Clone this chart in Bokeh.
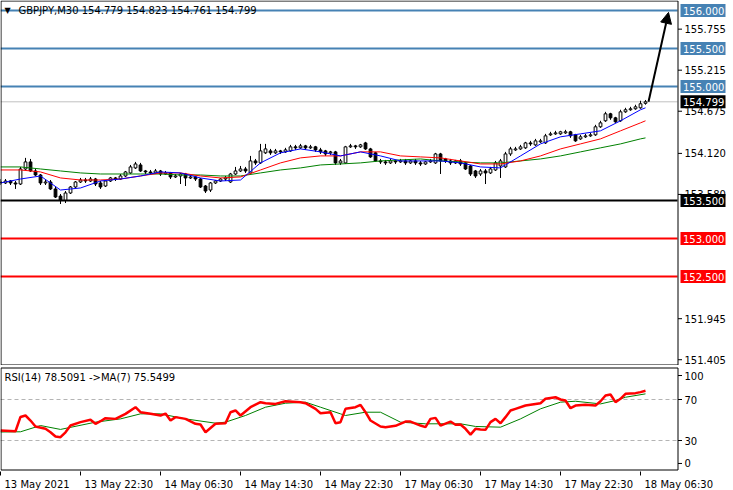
from bokeh.plotting import figure
from bokeh.models import (Range1d, FixedTicker, Label, Arrow, NormalHead, ColumnDataSource)
from bokeh.core.properties import value
from bokeh.layouts import column
from bokeh.embed import file_html
from bokeh.resources import INLINE

# ---------------- data ----------------
symbol_header = "GBPJPY,M30 154.779 154.823 154.761 154.799"
rsi_header = "RSI(14) 78.5091  ->MA(7) 75.5499"

opens = [153.744, 153.731, 153.757, 153.731, 153.717, 153.915, 154.008, 153.889, 153.836, 153.731,
         153.744, 153.652, 153.559, 153.507, 153.599, 153.678, 153.744, 153.770, 153.757, 153.783,
         153.731, 153.691, 153.757, 153.797, 153.783, 153.823, 153.863, 153.929, 153.968, 153.889,
         153.876, 153.863, 153.889, 153.849, 153.863, 153.810, 153.823, 153.849, 153.797, 153.810,
         153.783, 153.691, 153.638, 153.731, 153.757, 153.783, 153.744, 153.849, 153.889, 153.915,
         153.863, 154.021, 153.995, 154.127, 154.153, 154.127, 154.153, 154.140, 154.153, 154.206,
         154.193, 154.219, 154.193, 154.206, 154.166, 154.153, 154.127, 154.140, 153.995, 153.995,
         154.206, 154.219, 154.206, 154.258, 154.179, 154.127, 154.021, 154.008, 153.995, 154.021,
         154.008, 154.021, 153.995, 154.021, 153.995, 153.981, 154.008, 153.995, 154.113, 154.047,
         154.021, 153.995, 154.021, 153.995, 153.955, 153.889, 153.849, 153.889, 153.863, 153.902,
         153.955, 153.942, 154.113, 154.166, 154.179, 154.193, 154.258, 154.232, 154.272, 154.258,
         154.364, 154.377, 154.377, 154.390, 154.404, 154.364, 154.311, 154.338, 154.351, 154.364,
         154.470, 154.549, 154.641, 154.588, 154.549, 154.667, 154.694, 154.707, 154.720, 154.779]
highs = [153.783, 153.783, 153.770, 153.757, 153.942, 154.061, 154.047, 153.915, 153.849, 153.770,
         153.770, 153.678, 153.586, 153.625, 153.691, 153.757, 153.797, 153.797, 153.810, 153.797,
         153.757, 153.770, 153.810, 153.810, 153.849, 153.889, 153.968, 154.008, 153.995, 153.902,
         153.902, 153.915, 153.902, 153.889, 153.876, 153.849, 153.863, 153.863, 153.836, 153.823,
         153.797, 153.704, 153.744, 153.770, 153.797, 153.823, 153.863, 153.942, 153.955, 153.942,
         154.087, 154.047, 154.245, 154.245, 154.179, 154.179, 154.166, 154.193, 154.232, 154.232,
         154.245, 154.232, 154.232, 154.219, 154.193, 154.166, 154.153, 154.153, 154.047, 154.219,
         154.245, 154.232, 154.245, 154.272, 154.193, 154.140, 154.047, 154.034, 154.047, 154.034,
         154.047, 154.047, 154.034, 154.047, 154.021, 154.021, 154.047, 154.127, 154.127, 154.061,
         154.047, 154.034, 154.047, 154.008, 153.968, 153.902, 153.915, 153.915, 153.942, 154.021,
         154.047, 154.140, 154.206, 154.206, 154.232, 154.272, 154.285, 154.311, 154.311, 154.377,
         154.404, 154.417, 154.417, 154.430, 154.417, 154.377, 154.364, 154.377, 154.390, 154.496,
         154.549, 154.667, 154.654, 154.601, 154.694, 154.720, 154.733, 154.760, 154.813, 154.823]
lows = [153.704, 153.717, 153.704, 153.652, 153.704, 153.902, 153.876, 153.823, 153.704, 153.704,
        153.638, 153.533, 153.454, 153.467, 153.586, 153.665, 153.731, 153.731, 153.744, 153.691,
        153.652, 153.678, 153.744, 153.757, 153.770, 153.810, 153.849, 153.915, 153.876, 153.849,
        153.836, 153.849, 153.823, 153.836, 153.783, 153.797, 153.717, 153.691, 153.783, 153.757,
        153.665, 153.599, 153.612, 153.717, 153.744, 153.757, 153.731, 153.836, 153.876, 153.863,
        153.849, 153.968, 153.981, 154.113, 154.100, 154.113, 154.113, 154.127, 154.140, 154.166,
        154.179, 154.166, 154.179, 154.140, 154.113, 154.087, 154.100, 153.968, 153.968, 153.981,
        154.193, 154.179, 154.193, 154.166, 154.061, 154.008, 153.981, 153.968, 153.981, 153.981,
        153.995, 153.968, 153.981, 153.968, 153.955, 153.968, 153.995, 153.981, 153.849, 153.995,
        153.968, 153.981, 153.955, 153.902, 153.823, 153.797, 153.823, 153.717, 153.849, 153.889,
        153.797, 153.929, 154.087, 154.153, 154.166, 154.179, 154.219, 154.219, 154.258, 154.245,
        154.351, 154.364, 154.364, 154.377, 154.324, 154.272, 154.298, 154.324, 154.338, 154.351,
        154.456, 154.535, 154.562, 154.522, 154.535, 154.654, 154.681, 154.694, 154.707, 154.761]
closes = [153.731, 153.757, 153.731, 153.717, 153.915, 154.008, 153.889, 153.836, 153.731, 153.744,
          153.652, 153.546, 153.507, 153.599, 153.678, 153.744, 153.770, 153.757, 153.783, 153.717,
          153.678, 153.757, 153.797, 153.783, 153.823, 153.876, 153.942, 153.981, 153.889, 153.876,
          153.863, 153.889, 153.849, 153.863, 153.810, 153.823, 153.849, 153.797, 153.810, 153.783,
          153.678, 153.625, 153.731, 153.757, 153.783, 153.797, 153.849, 153.889, 153.915, 153.889,
          154.021, 153.995, 154.153, 154.179, 154.127, 154.153, 154.140, 154.166, 154.206, 154.193,
          154.219, 154.193, 154.206, 154.166, 154.140, 154.113, 154.140, 153.995, 154.021, 154.206,
          154.219, 154.206, 154.232, 154.179, 154.074, 154.021, 154.008, 153.995, 154.021, 154.008,
          154.021, 153.995, 154.021, 153.995, 153.981, 154.008, 154.021, 154.113, 154.021, 154.021,
          153.995, 154.021, 153.981, 153.915, 153.849, 153.823, 153.889, 153.863, 153.915, 153.995,
          154.021, 154.113, 154.179, 154.179, 154.206, 154.258, 154.245, 154.285, 154.285, 154.351,
          154.377, 154.390, 154.404, 154.404, 154.351, 154.285, 154.338, 154.351, 154.364, 154.470,
          154.522, 154.641, 154.588, 154.535, 154.667, 154.694, 154.707, 154.733, 154.773, 154.799]
bars = list(range(len(closes)))

ma_bars = [0, 4, 8, 12, 16, 20, 24, 28, 32, 36, 40, 44, 48, 52, 56, 60, 64,
           68, 72, 76, 80, 84, 88, 92, 96, 100, 104, 108, 112, 116, 120, 124, 128, 129]
ma_fast = [153.731, 153.783, 153.823, 153.638, 153.665, 153.757, 153.783, 153.823, 153.876, 153.863,
           153.797, 153.757, 153.770, 153.995, 154.127, 154.179, 154.140, 154.087, 154.140, 154.087,
           154.021, 154.021, 154.021, 153.995, 153.942, 153.929, 154.087, 154.245, 154.338, 154.377,
           154.417, 154.549, 154.694, 154.720]
ma_mid = [153.902, 153.902, 153.876, 153.797, 153.770, 153.770, 153.783, 153.823, 153.863, 153.863,
          153.823, 153.797, 153.810, 153.902, 153.995, 154.061, 154.087, 154.087, 154.140, 154.140,
          154.087, 154.074, 154.061, 154.021, 153.981, 153.981, 154.021, 154.087, 154.179, 154.245,
          154.311, 154.417, 154.522, 154.549]
ma_slow = [153.942, 153.942, 153.915, 153.889, 153.863, 153.849, 153.849, 153.849, 153.849, 153.836,
           153.836, 153.823, 153.823, 153.863, 153.902, 153.929, 153.968, 153.981, 153.995, 154.021,
           154.034, 154.047, 154.021, 154.008, 153.995, 153.995, 154.021, 154.047, 154.087, 154.140,
           154.193, 154.245, 154.311, 154.324]

rsi_bars = [0, 3, 4, 5, 6, 7, 9, 10, 11, 12, 13, 14, 16, 18, 19, 20, 21, 23, 25, 27,
            28, 30, 32, 33, 34, 35, 37, 39, 40, 41, 43, 45, 46, 47, 48, 50, 52, 53, 55, 57,
            60, 61, 63, 64, 66, 67, 68, 69, 71, 72, 73, 74, 76, 77, 79, 81, 82, 84, 85, 86,
            87, 88, 90, 91, 92, 93, 94, 95, 96, 97, 98, 99, 100, 101, 102, 103, 105, 107, 108, 109,
            111, 112, 113, 114, 115, 117, 119, 120, 121, 122, 123, 124, 125, 127, 128, 129]
rsi_vals = [39.8, 39.0, 53.0, 54.4, 49.5, 43.7, 41.4, 38.1, 33.9, 33.2, 38.0, 44.6, 47.9, 50.2, 46.3, 48.8, 51.8, 51.1, 56.0, 62.5,
            57.6, 56.0, 54.4, 56.3, 49.5, 52.8, 51.1, 46.3, 45.6, 38.1, 46.3, 46.9, 57.6, 59.3, 54.4, 62.5, 67.4, 66.4, 65.7, 68.3,
            67.4, 66.4, 60.9, 56.6, 57.6, 46.9, 47.9, 60.9, 62.5, 64.8, 57.6, 49.5, 43.7, 43.0, 44.3, 48.5, 48.5, 44.6, 43.0, 51.1,
            52.1, 44.6, 48.5, 45.3, 45.6, 41.4, 35.8, 41.4, 40.7, 40.4, 47.9, 51.1, 46.9, 52.8, 59.3, 60.9, 64.1, 65.7, 66.4, 70.7,
            72.2, 70.0, 69.0, 61.5, 64.1, 64.8, 64.1, 68.3, 73.9, 74.9, 67.4, 70.7, 75.6, 76.2, 77.2, 78.5]
rsi_ma_bars = [0, 4, 8, 12, 19, 24, 28, 32, 37, 43, 45, 49, 53, 57, 61, 64, 68, 69, 73, 76,
               80, 85, 92, 95, 100, 104, 108, 112, 115, 120, 123, 125, 129]
rsi_ma_vals = [38.3, 38.5, 44.6, 40.8, 47.9, 51.1, 56.0, 56.0, 51.1, 46.9, 47.9, 54.4, 62.5, 66.4, 67.4, 62.5, 56.0, 54.4, 57.6, 57.6,
               47.9, 46.3, 46.3, 43.7, 43.0, 51.1, 60.9, 67.4, 68.3, 65.7, 69.0, 72.2, 75.5]

time_tick_bars = [0, 16, 32, 48, 64, 80, 96, 112, 128]
time_tick_labels = ["13 May 2021", "13 May 22:30", "14 May 06:30", "14 May 14:30", "14 May 22:30",
                    "17 May 06:30", "17 May 14:30", "17 May 22:30", "18 May 06:30"]

price_ticks = [155.755, 155.215, 154.675, 154.120, 153.580, 151.945, 151.405]
rsi_levels = [70, 30]
rsi_tick_pos = [93.4, 70, 30, 7.6]
rsi_tick_text = ["100", "70", "30", "0"]

levels_blue = [156.000, 155.500, 155.000]
level_black = 153.500
levels_red = [153.000, 152.500]
bid_price = 154.799
target_price = 156.000

# ---------------- geometry / styling ----------------
FONT = "DejaVu Sans"
FS = "10px"
STEEL = "#4682B4"
K = 5.0                       # pixels per bar
CHART_W = 677                 # chart area width in px (price scale lies right of it)
FULL_W = 733                  # frame width incl. price-scale strip
X0 = 0.0
X1 = X0 + CHART_W / K         # chart right border (in bar units)
XEND = X0 + FULL_W / K
MAIN_H = 365
Y0, Y1 = 151.329, 156.132
PY = MAIN_H / (Y1 - Y0)       # pixels per price unit
RSI_H = 105
R0, R1 = -0.24, 102.2
PR = RSI_H / (R1 - R0)

xr = Range1d(X0, XEND)


def base_fig(h, yr, **kw):
    f = figure(frame_width=FULL_W, frame_height=h, x_range=xr, y_range=yr,
               output_backend="svg", toolbar_location=None, tools="",
               y_axis_location=None, min_border_left=0, min_border_right=0, **kw)
    f.grid.visible = False
    f.outline_line_color = None
    f.background_fill_color = "white"
    f.border_fill_color = "white"
    return f


def scale_strip(f, ticks, texts, yb, yt):
    # chart border
    f.quad(left=[X0 + 0.5 / K], right=[X1 + 0.5 / K], bottom=[yb], top=[yt],
           fill_color=None, line_color="black", line_width=1)
    # tick marks and labels of the price scale
    f.segment(x0=[X1 + 0.5 / K] * len(ticks), y0=ticks, x1=[X1 + 4.5 / K] * len(ticks), y1=ticks,
              line_color="black", line_width=1)
    f.text(x=[X1 + 7 / K] * len(ticks), y=ticks, text=texts, text_font=value(FONT),
           text_font_size=value(FS), text_color="black", text_align="left", text_baseline="middle")


# ---------------- main panel ----------------
main = base_fig(MAIN_H, Range1d(Y0, Y1), x_axis_location=None, min_border_top=0, min_border_bottom=0)

# horizontal levels (stop at the chart border)
hl = [(bid_price, "#c0c0c0", 1)] + [(lv, STEEL, 2) for lv in levels_blue] + \
     [(level_black, "black", 2)] + [(lv, "red", 2) for lv in levels_red]
main.segment(x0=[X0] * len(hl), x1=[X1] * len(hl), y0=[h[0] for h in hl], y1=[h[0] for h in hl],
             line_color=[h[1] for h in hl], line_width=[h[2] for h in hl])

# candles
fill = ["white" if c >= o else "black" for o, c in zip(opens, closes)]
src = ColumnDataSource(dict(x=bars, o=opens, h=highs, l=lows, c=closes,
                            top=[max(o, c) for o, c in zip(opens, closes)],
                            bottom=[min(o, c) for o, c in zip(opens, closes)],
                            fill=fill))
main.segment(x0="x", y0="h", x1="x", y1="l", source=src, line_color="black", line_width=1)
main.vbar(x="x", width=0.55, top="top", bottom="bottom", fill_color="fill",
          line_color="black", line_width=1, source=src)

# moving averages
main.line(ma_bars, ma_slow, line_color="green", line_width=1)
main.line(ma_bars, ma_mid, line_color="red", line_width=1)
main.line(ma_bars, ma_fast, line_color="blue", line_width=1)

# price scale
scale_strip(main, price_ticks, [f"{t:.3f}" for t in price_ticks], Y0 + 0.5 / PY, Y1 - 0.5 / PY)

# coloured price boxes on the scale
boxes = [(lv, STEEL) for lv in levels_blue] + [(bid_price, "black"), (level_black, "black")] + \
        [(lv, "red") for lv in levels_red]
bx = [X1 + (3 + 22.5) / K] * len(boxes)
main.rect(x=bx, y=[b[0] for b in boxes], width=45, height=13, width_units="screen",
          height_units="screen", fill_color=[b[1] for b in boxes], line_color=None)
main.text(x=[X1 + 5.5 / K] * len(boxes), y=[b[0] for b in boxes],
          text=[f"{b[0]:.3f}" for b in boxes], text_font=value(FONT), text_font_size=value(FS),
          text_color="white", text_align="left", text_baseline="middle")

# arrow from last close to the target level
main.add_layout(Arrow(end=NormalHead(size=11, fill_color="black", line_color="black", line_width=1),
                      x_start=bars[-1] + 0.6, y_start=closes[-1],
                      x_end=bars[-1] + 4.6, y_end=target_price - 0.025,
                      line_color="black", line_width=2))

# header
main.add_layout(Label(x=0.8, y=target_price, text="\u25bc", text_font=FONT, text_font_size="8px",
                      text_color="black", text_baseline="middle", text_align="left"))
main.add_layout(Label(x=3.6, y=target_price, text=symbol_header, text_font=FONT, text_font_size=FS,
                      text_color="black", text_baseline="middle", text_align="left"))

# ---------------- RSI panel ----------------
rsi = base_fig(RSI_H, Range1d(R0, R1), min_border_top=1, min_border_bottom=19)

rsi.segment(x0=[X0] * 2, x1=[X1] * 2, y0=rsi_levels, y1=rsi_levels,
            line_color="#b4b4b4", line_width=1, line_dash="4 3")
rsi.line(rsi_ma_bars, rsi_ma_vals, line_color="green", line_width=1)
rsi.line(rsi_bars, rsi_vals, line_color="red", line_width=2.5)

scale_strip(rsi, rsi_tick_pos, rsi_tick_text, R0 + 1.5 / PR, R1 - 1.5 / PR)

rsi.add_layout(Label(x=0.8, y=91.0, text=rsi_header, text_font=FONT, text_font_size=FS,
                     text_color="black", text_baseline="middle", text_align="left"))

# time axis: tick marks at the bar times (minor ticks), labels left-aligned after them
label_half_px = [34.6, 36.3, 36.3, 36.3, 36.3, 36.3, 36.3, 36.3, 36.3]
label_centres = [b + (2 + h) / K for b, h in zip(time_tick_bars, label_half_px)]
rx = rsi.xaxis[0]
rx.ticker = FixedTicker(ticks=label_centres, minor_ticks=time_tick_bars)
rx.major_label_overrides = {c: t for c, t in zip(label_centres, time_tick_labels)}
rx.major_label_text_font = FONT
rx.major_label_text_font_size = FS
rx.major_label_text_color = "black"
rx.major_tick_in = 0
rx.major_tick_out = 0
rx.minor_tick_in = 0
rx.minor_tick_out = 4
rx.minor_tick_line_color = "black"
rx.major_label_standoff = 3
rx.axis_line_color = None

layout = column(main, rsi, spacing=0)
open("out.html", "w").write(file_html(layout, INLINE))
